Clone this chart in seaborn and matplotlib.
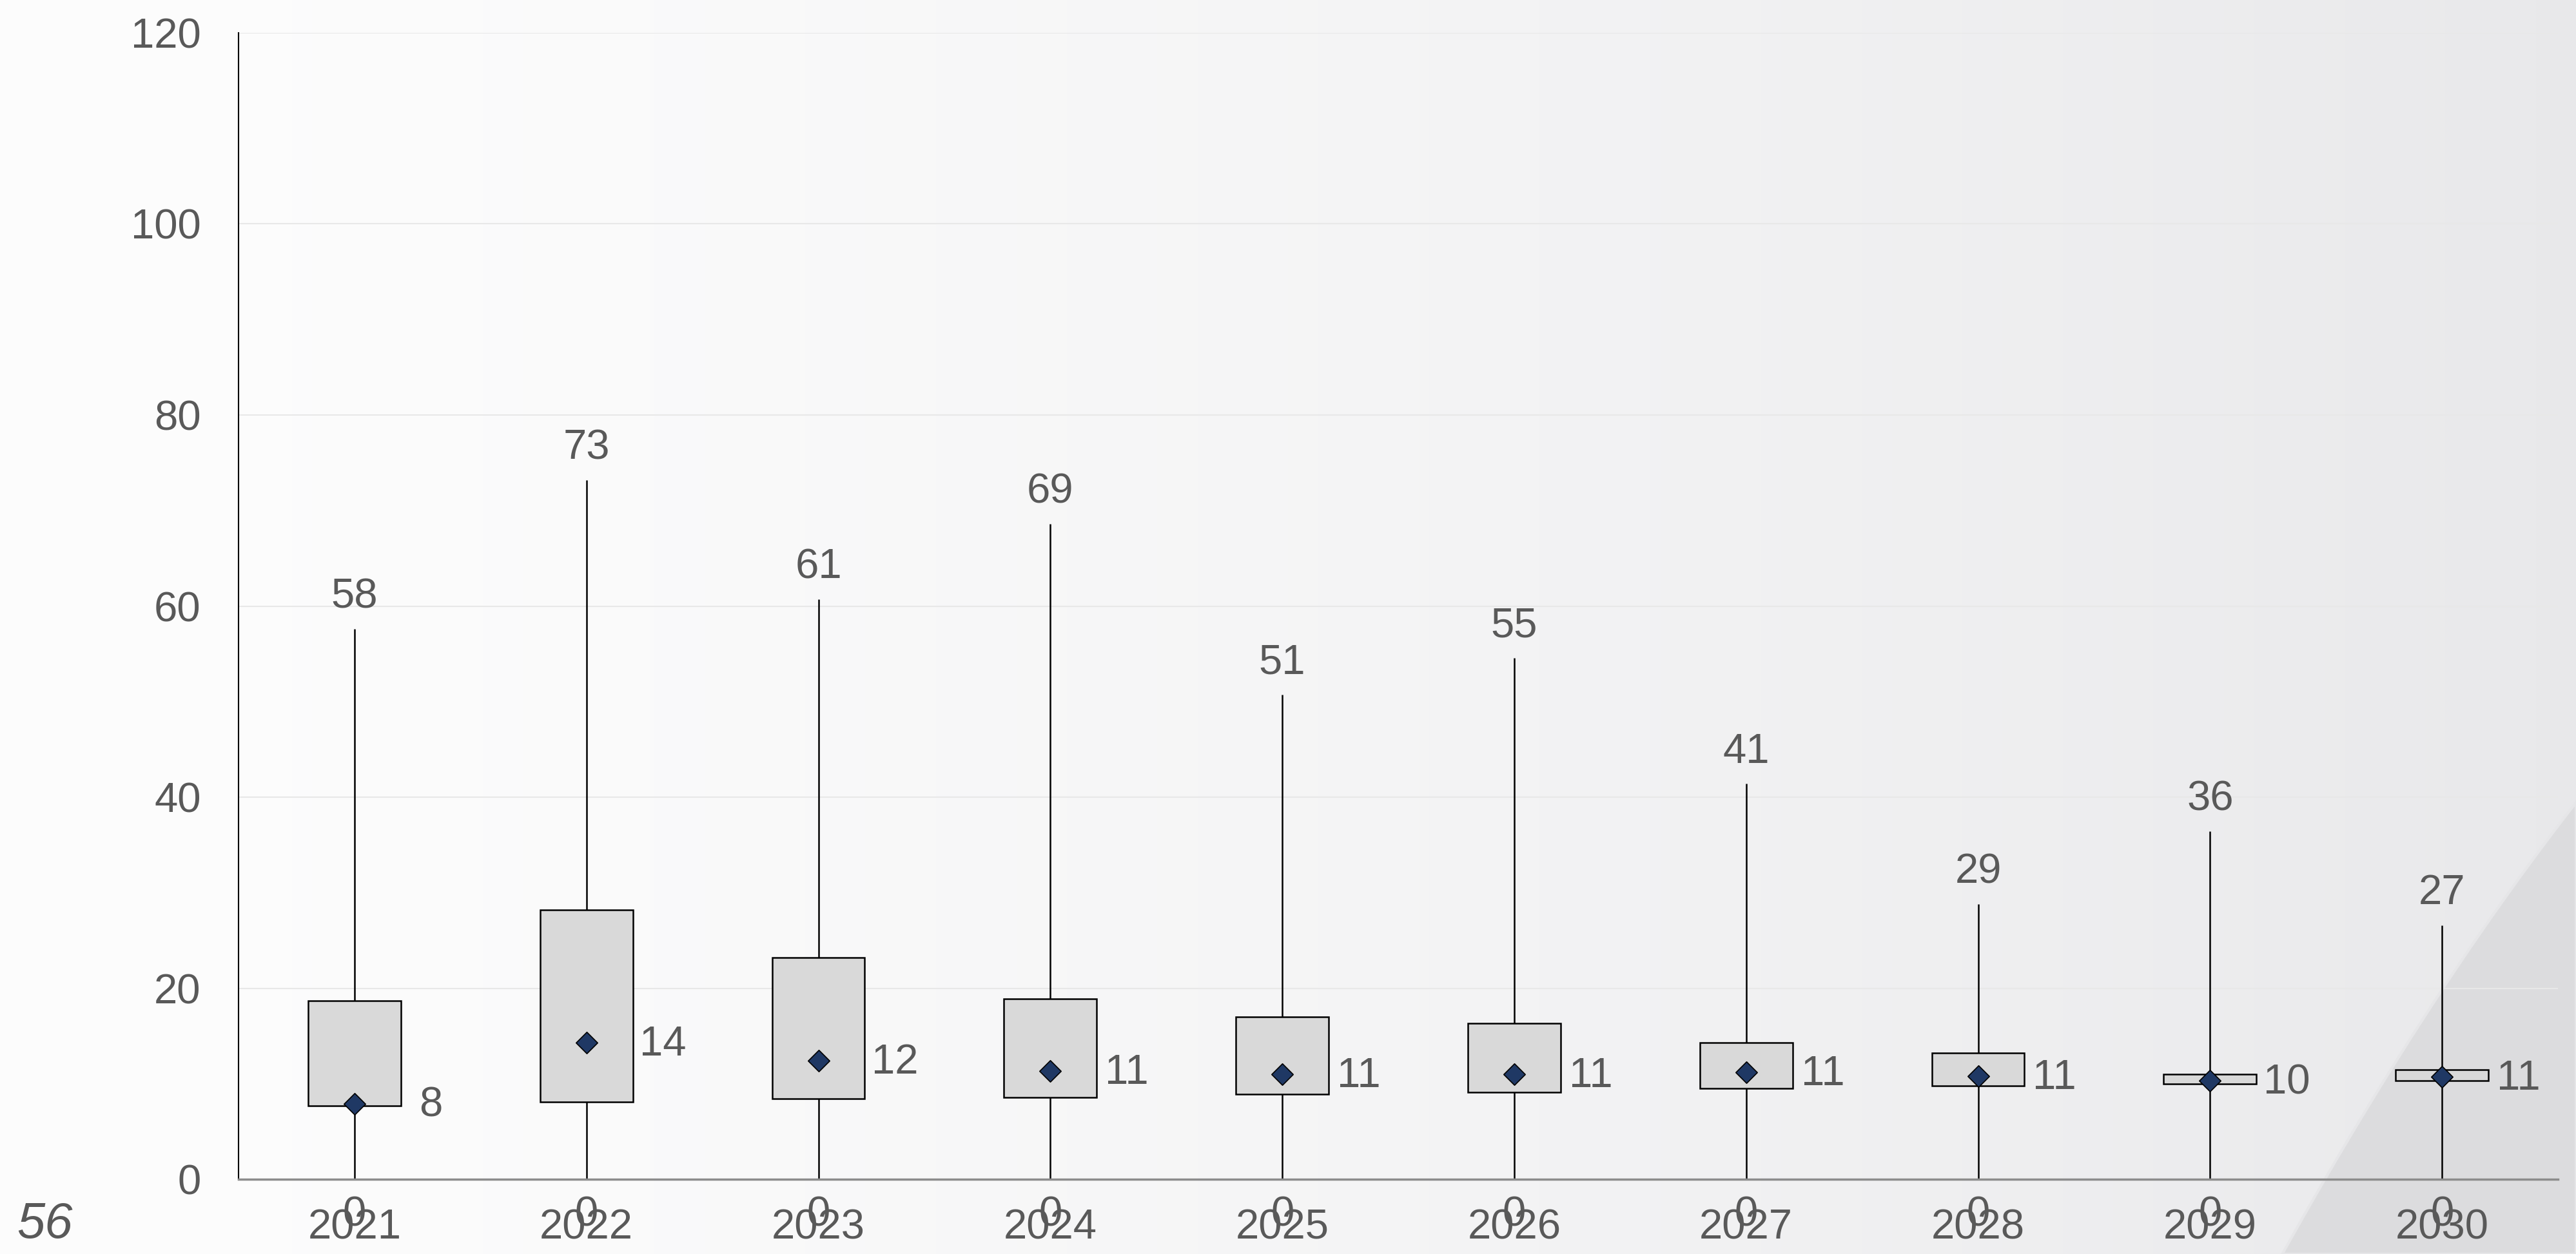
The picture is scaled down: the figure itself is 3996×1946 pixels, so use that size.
import pandas as pd
import seaborn as sns
import matplotlib.pyplot as plt
import numpy as np
from matplotlib.patches import Polygon

sns.set_style('white')
plt.rcParams['font.family'] = ['Liberation Sans', 'DejaVu Sans']

# Values
years = ['2021', '2022', '2023', '2024', '2025', '2026', '2027', '2028', '2029', '2030']
mins = [0, 0, 0, 0, 0, 0, 0, 0, 0, 0]
q1 = [7.7, 8.1, 8.4, 8.6, 8.9, 9.1, 9.5, 9.8, 10.0, 10.3]
means = [7.9, 14.3, 12.4, 11.3, 11.0, 11.0, 11.2, 10.8, 10.3, 10.7]
q3 = [18.7, 28.2, 23.2, 18.9, 17.0, 16.3, 14.3, 13.2, 11.0, 11.5]
maxs = [57.6, 73.2, 60.7, 68.6, 50.7, 54.6, 41.4, 28.8, 36.4, 26.6]
yticks = [0, 20, 40, 60, 80, 100, 120]
corner_note = '56'

text_color = '#595959'

# five points per year -> percentiles 0/25/50/75/100 land exactly on them
rows = []
for i, y in enumerate(years):
    for v in (mins[i], q1[i], means[i], q3[i], maxs[i]):
        rows.append({'year': y, 'value': v})
df = pd.DataFrame(rows)

fig = plt.figure(figsize=(39.96, 19.46), dpi=100)

# background: soft horizontal gradient plus a darker sweep bottom right
bg = fig.add_axes([0, 0, 1, 1], zorder=-10)
grad = np.linspace(0, 1, 256)
c0 = np.array([0.992, 0.992, 0.992])
c1 = np.array([0.912, 0.912, 0.92])
img = c0[None, :] + (c1 - c0)[None, :] * (grad ** 1.4)[:, None]
bg.imshow(img[None, :, :], extent=[0, 1, 0, 1], aspect='auto')
t = np.linspace(0, 1, 40)
xs = 0.886 + 0.114 * t
ys = 0.36 * t + 0.06 * t * (1 - t)
shape = np.column_stack([np.r_[xs, 1.0], np.r_[ys, 0.0]])
bg.add_patch(Polygon(shape, closed=True, facecolor='#dcdcde', edgecolor='#e6e6e8', lw=3))
bg.set_xlim(0, 1)
bg.set_ylim(0, 1)
bg.axis('off')

ax = fig.add_axes([0.0926, 0.0596, 0.9004, 0.9142])
ax.patch.set_alpha(0)

sns.boxplot(data=df, x='year', y='value', order=years, whis=(0, 100), width=0.4,
            color='#d9d9d9', saturation=1, linecolor='black', linewidth=1.8,
            showcaps=False, medianprops={'linewidth': 0}, ax=ax)
sns.stripplot(x=years, y=means, order=years, jitter=False, marker='D', size=17,
              color='#1f3864', edgecolor='black', linewidth=1.2, zorder=5, ax=ax)

for i in range(len(years)):
    ax.annotate(f'{maxs[i]:.0f}', (i, maxs[i]), xytext=(0, 14), textcoords='offset points',
                ha='center', va='bottom', fontsize=47, color=text_color)
    ax.annotate(f'{mins[i]:.0f}', (i, mins[i]), xytext=(0, -40), textcoords='offset points',
                ha='center', va='center', fontsize=47, color=text_color)
    ax.annotate(f'{means[i]:.0f}', (i + 0.33, means[i]), xytext=(0, -2),
                textcoords='offset points', ha='center', va='center',
                fontsize=47, color=text_color)

ax.set_xlim(-0.5, len(years) - 0.5)
ax.set_ylim(0, 120)
ax.set_yticks(yticks)
ax.set_xlabel('')
ax.set_ylabel('')
ax.yaxis.grid(True, color='#e8e8e8', linewidth=1.5)
ax.set_axisbelow(True)

ax.set_xticks(np.arange(-0.5, len(years)), minor=True)
ax.tick_params(axis='x', which='major', length=0, pad=33, labelsize=47, labelcolor=text_color)
ax.tick_params(axis='x', which='minor', length=14, width=1.5, color='#8c8c8c', direction='out')
ax.tick_params(axis='y', length=0, pad=42, labelsize=47, labelcolor=text_color)

for s in ('top', 'right'):
    ax.spines[s].set_visible(False)
ax.spines['left'].set_color('black')
ax.spines['left'].set_linewidth(1.5)
ax.spines['bottom'].set_color('#8c8c8c')
ax.spines['bottom'].set_linewidth(2.5)

fig.text(0.0173, 1 - 1901 / 1946, corner_note, ha='center', va='center', fontsize=56,
         style='italic', color=text_color)

fig.savefig('out.png', dpi=100)
